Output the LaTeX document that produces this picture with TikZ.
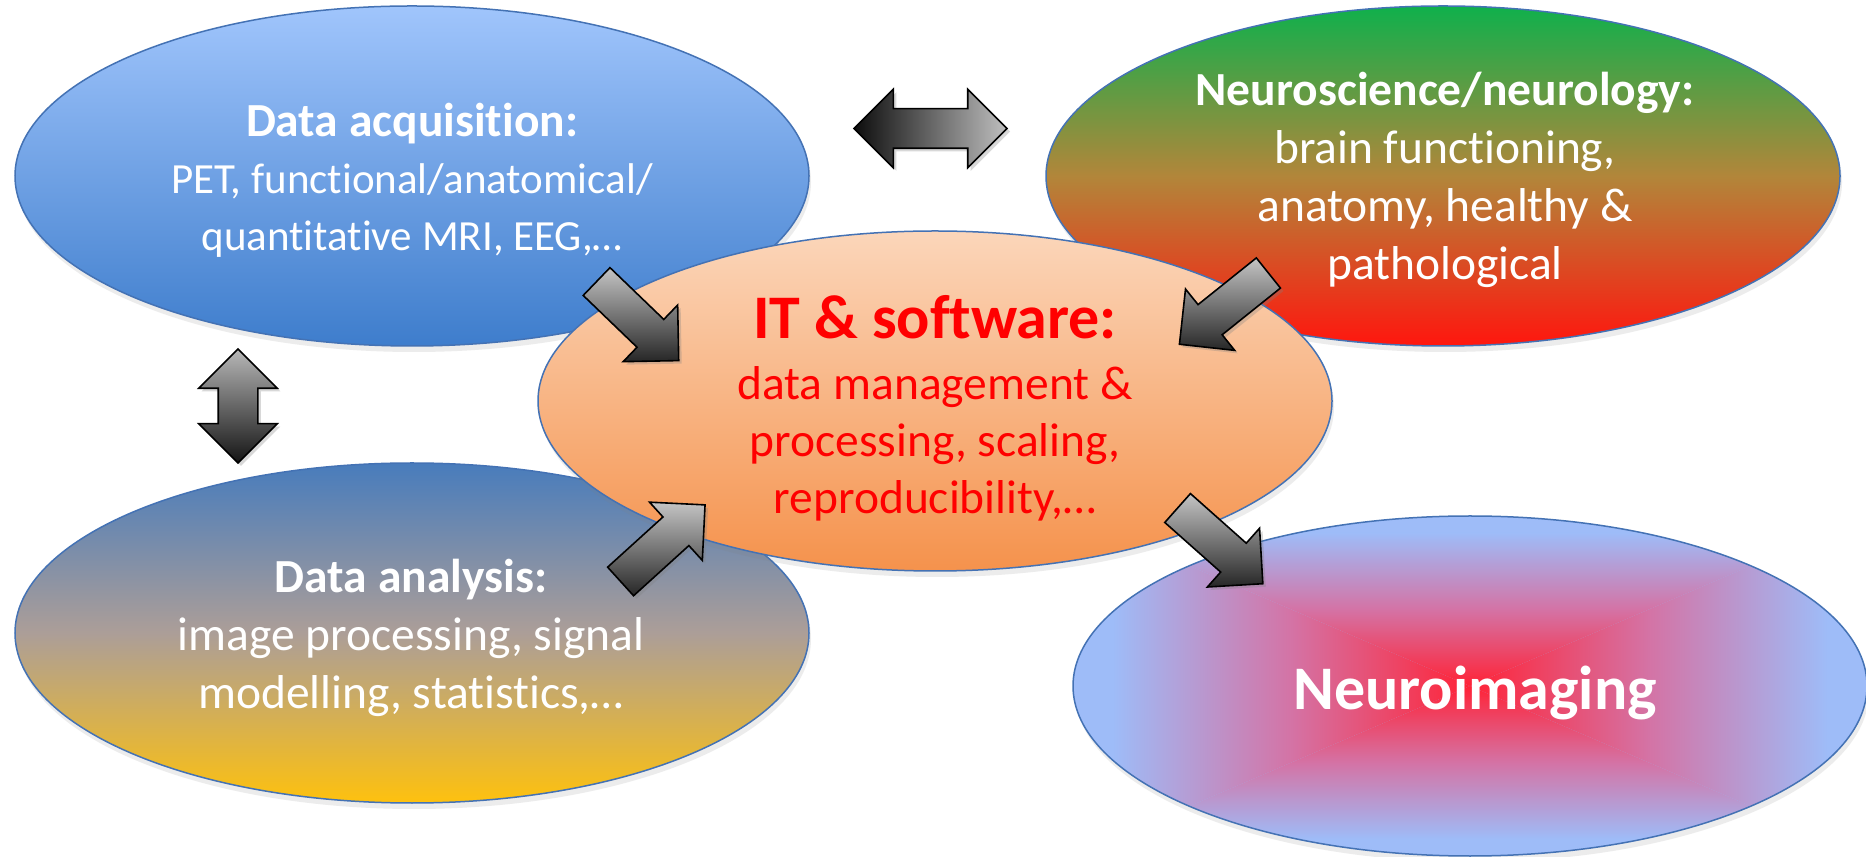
\documentclass[tikz,border=0pt]{standalone}
\usepackage{fontspec}
\setmainfont{Carlito}[Ligatures=NoCommon]
\usetikzlibrary{shapes.geometric,shapes.arrows,shadows,calc}

\definecolor{acqtop}{RGB}{160,197,252}
\definecolor{acqbottom}{RGB}{62,125,204}
\definecolor{neurotop}{RGB}{15,176,76}
\definecolor{neuromid}{RGB}{178,134,58}
\definecolor{neurobottom}{RGB}{255,22,14}
\definecolor{ittop}{RGB}{251,214,186}
\definecolor{itbottom}{RGB}{245,146,76}
\definecolor{itred}{RGB}{255,0,0}
\definecolor{anatop}{RGB}{72,124,188}
\definecolor{anamid}{RGB}{172,158,152}
\definecolor{anabottom}{RGB}{254,193,14}
\definecolor{imgblue}{RGB}{158,188,248}
\definecolor{imgmid}{RGB}{212,115,165}
\definecolor{imgred}{RGB}{255,35,55}
\definecolor{rim}{RGB}{68,114,180}

\tikzstyle{bubble}=[ellipse,draw=rim,line width=0.75pt,minimum width=397pt,minimum height=170pt,inner sep=0pt,drop shadow={opacity=0.15,shadow xshift=1pt,shadow yshift=-3pt}]
\tikzstyle{bubbletext}=[text=white,align=center,font=\fontsize{23.75}{29}\selectfont]
\tikzstyle{blockarrow}=[single arrow,draw,line width=0.8pt,minimum height=57pt,minimum width=38.5pt,inner xsep=0pt,inner ysep=9.25pt,single arrow head extend=10pt,top color=black!23,bottom color=black!85,drop shadow={opacity=0.3,shadow xshift=1.5pt,shadow yshift=-1.5pt}]
\tikzstyle{twowayarrow}=[double arrow,draw,line width=0.8pt,minimum width=38.5pt,inner xsep=0pt,inner ysep=9.5pt,double arrow head extend=9.75pt,drop shadow={opacity=0.3,shadow xshift=1.5pt,shadow yshift=-1.5pt}]

\begin{document}
\begin{tikzpicture}[x=0.5pt,y=0.5pt]

    \path[use as bounding box,fill=white] (0,0) rectangle (1866,856);

    % outer bubbles first, IT bubble lies on top of them
    \node[bubble,top color=acqtop,bottom color=acqbottom] (acq) at (412,680) {};
    \node[bubble,top color=neurotop,bottom color=neurobottom,middle color=neuromid] (neuro) at (1443,680) {};
    \node[bubble,top color=anatop,bottom color=anabottom,middle color=anamid] (ana) at (412,223) {};
    \node[bubble,top color=ittop,bottom color=itbottom] (it) at (935,455) {};
    % rectangular glow: four triangles from the centre
    \node[bubble,fill=imgblue,path picture={
        \coordinate (mid) at (path picture bounding box.center);
        \foreach \from/\to/\ang in {north west/north east/0, south west/north west/90, south east/south west/180, north east/south east/270}
            \shade[top color=imgblue,bottom color=imgred,middle color=imgmid,shading angle=\ang]
                (mid) -- ($(mid)!0.9!(path picture bounding box.\from)$) -- ($(mid)!0.9!(path picture bounding box.\to)$) -- cycle;
        }] (img) at (1470,170) {};

    % texts
    \node[bubbletext,font=\fontsize{21.5}{28.5}\selectfont] (acqtext) at (412,676)
        {{\fontsize{23.75}{28.5}\selectfont\bfseries Data acquisition:}\\ PET, functional/anatomical/\\ quantitative MRI, EEG,…};
    \node[bubbletext] (neurotext) at (1445,676)
        {\textbf{Neuroscience/neurology:}\\ brain functioning,\\ anatomy, healthy \&\\ pathological};
    \node[bubbletext] (anatext) at (411,218)
        {\textbf{Data analysis:}\\ image processing, signal\\ modelling, statistics,…};
    \node[bubbletext,text=itred,font=\fontsize{23.75}{28.5}\selectfont] (ittext) at (935,448)
        {{\fontsize{31}{36}\selectfont\bfseries IT \& software:}\\[2pt] data management \&\\ processing, scaling,\\ reproducibility,…};
    \node[bubbletext,font=\fontsize{31}{36}\selectfont\bfseries] (imgtext) at (1475,163) {Neuroimaging};

    % block arrows
    \node[twowayarrow,minimum height=76.5pt,left color=black!95,right color=black!25] (acqneuro) at (930.5,727.5) {};
    \node[twowayarrow,minimum height=57pt,rotate=90,top color=black!28,bottom color=black!92] (acqana) at (238,450) {};

    \node[blockarrow,rotate=-43.9,anchor=tail] (acqit) at (596,575) {};
    \node[blockarrow,rotate=-141.3,anchor=tail] (neuroit) at (1269,583.5) {};
    \node[blockarrow,rotate=42.2,anchor=tail] (anait) at (620,274) {};
    \node[blockarrow,rotate=-41.6,anchor=tail] (itimg) at (1177,348.5) {};

\end{tikzpicture}
\end{document}
